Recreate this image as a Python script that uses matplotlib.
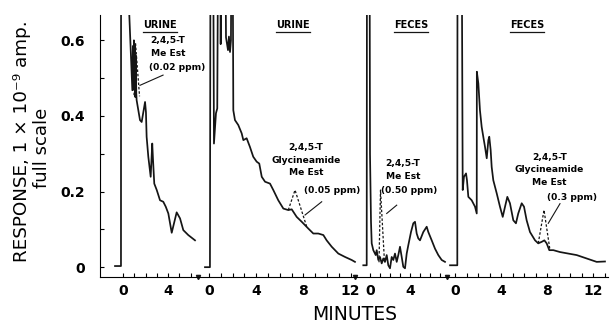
import matplotlib.pyplot as plt

# cada panel tiene su propio cero de minutos sobre el eje comun
origen = [23, 109, 270, 355]
escala = [11.25, 11.8, 10.0, 11.5]
ticks_min = [range(0, 7), range(0, 13), range(0, 8), range(0, 14)]
ticks_lab = [[0, 4], [0, 4, 8, 12], [0, 4], [0, 4, 8, 12]]
cortes = [98, 255, 347]

t1 = [-0.71, -0.18, -0.17, 0.45, 0.56, 0.83, 0.88, 0.92, 0.97, 1.0, 1.05, 1.09, 1.13, 1.18,
      1.21, 1.51, 1.66, 1.96, 2.04, 2.1, 2.25, 2.46, 2.6, 2.67, 2.78, 3.0, 3.29, 3.58, 3.8,
      4.03, 4.33, 4.77, 5.07, 5.36, 5.8, 6.4]
r1 = [0.003, 0.003, 1.0, 1.0, 0.667, 0.468, 0.585, 0.47, 0.6, 0.48, 0.59, 0.45, 0.56, 0.46,
      0.442, 0.389, 0.384, 0.437, 0.41, 0.345, 0.292, 0.239, 0.327, 0.283, 0.221, 0.204, 0.177,
      0.173, 0.16, 0.142, 0.091, 0.145, 0.129, 0.098, 0.085, 0.071]

t2 = [-0.34, 0.08, 0.13, 0.34, 0.42, 0.59, 0.70, 0.79, 0.93, 0.99, 1.10, 1.36, 1.44, 1.61,
      1.69, 1.78, 1.86, 1.92, 1.99, 2.06, 2.20, 2.48, 2.77, 2.91, 3.19, 3.47, 3.75, 4.04, 4.26,
      4.47, 4.75, 5.17, 5.45, 5.87, 6.30, 6.72, 7.01, 7.43, 7.86, 8.42, 8.84, 9.26, 9.69, 9.97,
      10.40, 10.96, 11.53, 12.09, 12.37]
r2 = [0.0, 0.0, 1.0, 1.0, 0.327, 0.407, 0.42, 1.0, 1.0, 0.59, 1.0, 1.0, 0.608, 0.574,
      0.61, 0.569, 0.6, 1.0, 1.0, 0.415, 0.389, 0.376, 0.354, 0.336, 0.341, 0.318, 0.292, 0.279, 0.274,
      0.239, 0.226, 0.221, 0.204, 0.177, 0.155, 0.151, 0.153, 0.133, 0.12, 0.102, 0.089, 0.089, 0.085, 0.071,
      0.054, 0.036, 0.027, 0.019, 0.014]

t3 = [-0.67, -0.33, -0.3, -0.05, 0.0, 0.1, 0.17, 0.33, 0.57, 0.67, 0.83, 1.0, 1.17, 1.33, 1.5,
      1.67, 1.83, 2.0, 2.17, 2.33, 2.5, 2.67, 2.83, 3.0, 3.17, 3.33, 3.5, 3.67, 3.83, 4.1, 4.33,
      4.5, 4.67, 4.83, 5.0, 5.33, 5.67, 5.83, 6.17, 6.5, 6.83, 7.17, 7.5]
r3 = [0.005, 0.005, 1.0, 1.0, 0.3, 0.12, 0.063, 0.045, 0.032, 0.045, 0.019, 0.027, 0.01, 0.023, 0.014,
      0.032, 0.005, -0.003, 0.027, 0.019, 0.036, 0.014, 0.032, 0.054, 0.027, 0.001, -0.003, 0.036, 0.058, 0.093, 0.116,
      0.12, 0.089, 0.076, 0.071, 0.093, 0.107, 0.093, 0.071, 0.049, 0.032, 0.019, 0.014]

t4 = [-0.43, 0.2, 0.22, 0.57, 0.67, 0.78, 0.96, 1.04, 1.16, 1.45, 1.74, 1.89, 1.9, 2.03, 2.17,
      2.32, 2.46, 2.61, 2.76, 2.9, 2.98, 3.1, 3.19, 3.33, 3.63, 3.91, 4.15, 4.35, 4.55, 4.78,
      5.07, 5.3, 5.5, 5.8, 6.0, 6.23, 6.52, 6.96, 7.24, 7.54, 7.77, 7.97, 8.2, 8.55, 9.13,
      9.85, 10.58, 11.45, 12.32, 13.04]
r4 = [0.005, 0.005, 1.0, 1.0, 0.204, 0.239, 0.248, 0.23, 0.186, 0.177, 0.16, 0.142, 0.517, 0.486, 0.415,
      0.371, 0.345, 0.318, 0.288, 0.336, 0.345, 0.31, 0.265, 0.23, 0.195, 0.16, 0.133, 0.16, 0.186, 0.169,
      0.124, 0.116, 0.142, 0.169, 0.16, 0.124, 0.093, 0.071, 0.063, 0.067, 0.071, 0.063, 0.045, 0.045, 0.04,
      0.036, 0.032, 0.023, 0.014, 0.015]

# picos punteados de los estandares
td = [[0.98, 1.11, 1.47], [6.72, 7.29, 8.28], [0.9, 1.05, 1.45], [7.24, 7.74, 8.26]]
rd = [[0.455, 0.593, 0.452], [0.151, 0.204, 0.107], [0.013, 0.204, 0.013], [0.063, 0.151, 0.045]]

# rotulos
muestras = ['URINE', 'URINE', 'FECES', 'FECES']
muestra_t = [3.3, 7.1, 4.1, 6.3]
compuestos = ['2,4,5-T\nMe Est', '2,4,5-T\nGlycineamide\nMe Est',
              '2,4,5-T\nMe Est', '2,4,5-T\nGlycineamide\nMe Est']
comp_t = [4.0, 8.2, 3.3, 8.2]
comp_r = [0.611, 0.328, 0.286, 0.302]
ppm = ['(0.02 ppm)', '(0.05 ppm)', '(0.50 ppm)', '(0.3 ppm)']
ppm_t = [4.8, 10.4, 3.9, 10.2]
ppm_r = [0.529, 0.204, 0.204, 0.185]
flecha_t = [[3.56, 1.51], [9.55, 8.14], [2.67, 1.67], [9.13, 8.11]]
flecha_r = [[0.508, 0.481], [0.173, 0.138], [0.164, 0.142], [0.168, 0.116]]


def pos(i, t):
    if isinstance(t, (list, range)):
        return [origen[i] + escala[i] * v for v in t]
    return origen[i] + escala[i] * t


fig = plt.figure(figsize=(6.10, 3.27), dpi=100)
ax = fig.add_axes([100 / 610, 50 / 327, 508 / 610, 262 / 327])

trazas = [(t1, r1), (t2, r2), (t3, r3), (t4, r4)]
for i, (t, r) in enumerate(trazas):
    ax.plot(pos(i, t), r, color='#151515', lw=1.25)
    ax.plot(pos(i, td[i]), rd[i], color='#151515', lw=0.9, ls=(0, (2, 1.5)))
    ax.plot(pos(i, flecha_t[i]), flecha_r[i], color='#151515', lw=0.8)
    xm = pos(i, muestra_t[i])
    ax.text(xm, 0.64, muestras[i], ha='center', va='center', fontsize=7, fontweight='bold')
    ax.plot([xm - 17, xm + 17], [0.621, 0.621], color='#151515', lw=0.9, clip_on=False)
    ax.text(pos(i, comp_t[i]), comp_r[i], compuestos[i], ha='center', va='top',
            fontsize=6.6, fontweight='bold', linespacing=1.5)
    ax.text(pos(i, ppm_t[i]), ppm_r[i], ppm[i], ha='center', va='center',
            fontsize=6.6, fontweight='bold')

ax.set_xlim(0, 508)
ax.set_ylim(-0.026, 0.667)

mayores = []
etiquetas = []
menores = []
for i in range(4):
    mayores += pos(i, ticks_lab[i])
    etiquetas += [str(v) for v in ticks_lab[i]]
    menores += pos(i, ticks_min[i])
ax.set_xticks(mayores)
ax.set_xticklabels(etiquetas)
ax.set_xticks(menores, minor=True)
ax.set_yticks([0, 0.2, 0.4, 0.6])
ax.set_yticklabels(['0', '0.2', '0.4', '0.6'])
ax.set_yticks([0.1, 0.3, 0.5], minor=True)
ax.tick_params(which='both', direction='in', length=3, width=0.8)
ax.tick_params(axis='x', which='major', pad=5, labelsize=10)
ax.tick_params(axis='y', which='major', pad=11, labelsize=10)
for lab in ax.get_xticklabels() + ax.get_yticklabels():
    lab.set_fontweight('bold')

ax.spines['top'].set_visible(False)
ax.spines['right'].set_visible(False)
ax.plot(cortes, [-0.026] * 3, 'v', color='#151515', ms=3, clip_on=False)

fig.text(22 / 610, 1 - 141 / 327, 'RESPONSE, 1 × 10⁻⁹ amp.', rotation=90,
         ha='center', va='center', fontsize=13.2)
fig.text(42 / 610, 1 - 148 / 327, 'full scale', rotation=90,
         ha='center', va='center', fontsize=13)
fig.text(355 / 610, 1 - 315 / 327, 'MINUTES', ha='center', va='center', fontsize=13.5)

fig.savefig('out.png', dpi=100)
